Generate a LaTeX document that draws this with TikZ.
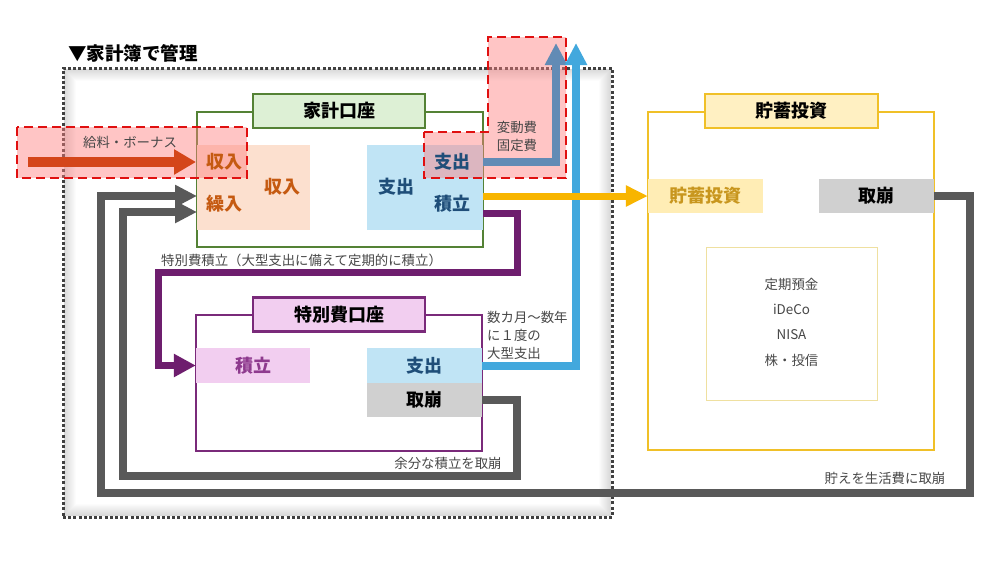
\documentclass[tikz,border=0pt]{standalone}
\usepackage{fontspec}
\setmainfont{Noto Sans CJK JP}
\usetikzlibrary{arrows.meta,calc}
\definecolor{grn}{HTML}{548235}
\definecolor{grnfill}{HTML}{DDF0D5}
\definecolor{orgfill}{HTML}{FCE0CF}
\definecolor{orgtxt}{HTML}{C55A11}
\definecolor{blufill}{HTML}{C0E4F5}
\definecolor{blutxt}{HTML}{1F4E79}
\definecolor{prp}{HTML}{7A2A7A}
\definecolor{prparrow}{HTML}{6E1E6E}
\definecolor{pnkfill}{HTML}{F2CEF0}
\definecolor{prptxt}{HTML}{8E3A8E}
\definecolor{gryline}{HTML}{595959}
\definecolor{gryfill}{HTML}{D0D0D0}
\definecolor{ylw}{HTML}{F0C028}
\definecolor{ylwfill}{HTML}{FFF0C2}
\definecolor{savfill}{HTML}{FFEDB5}
\definecolor{savtxt}{HTML}{C8961E}
\definecolor{ylwarrow}{HTML}{F8B500}
\definecolor{innerbd}{HTML}{EFE0A0}
\definecolor{lblue}{HTML}{42A8DD}
\definecolor{steel}{HTML}{628BB5}
\definecolor{incred}{HTML}{D4461A}
\definecolor{framegray}{HTML}{404040}
\definecolor{txtgray}{HTML}{474747}
\definecolor{rdash}{HTML}{E01010}
\definecolor{rfill}{HTML}{FF8080}
\begin{document}
\begin{tikzpicture}[x=1pt,y=-1pt,
  lbl/.style={font=\fontsize{13.4}{18}\selectfont, text=txtgray, inner sep=0pt},
  tabbox/.style={draw=#1, line width=2.2pt, minimum width=172pt, minimum height=34pt, inner sep=0pt, font=\bfseries\fontsize{18}{18}\selectfont},
  acct/.style={draw=#1, line width=2pt, inner sep=0pt},
  cellbox/.style={inner sep=0pt, font=\bfseries\fontsize{18}{18}\selectfont},
  redzone/.style={draw=rdash, line width=2.5pt, dash pattern=on 9pt off 5pt, fill=rfill, fill opacity=0.45},
  grflow/.style={draw=gryline, line width=8.5pt, -{Triangle[width=21pt,length=22pt]}},
]
\useasboundingbox[fill=white] (0,0) rectangle (1000,563);

% frame shadow
\foreach \i in {0,...,11}{
  \draw[black, opacity={0.15*(1-\i/12)}, line width=1.2pt] ({64.5+\i},{69.5+\i}) rectangle ({610.5-\i},{515.5-\i});
}
\node[draw=framegray, line width=3pt, dash pattern=on 3pt off 2.2pt, minimum width=549pt, minimum height=449pt, inner sep=0pt] (frame) at (337.5,292.5) {};
\node[anchor=west, inner sep=0pt, font=\bfseries\fontsize{18.5}{18.5}\selectfont] (title) at (68,53) {▼家計簿で管理};

% household account
\node[acct=grn, minimum width=286pt, minimum height=135pt] (kakei) at (340,179.5) {};
\node[cellbox, fill=orgfill, minimum width=113pt, minimum height=85pt] (inc) at (253.5,187.5) {};
\node[cellbox, fill=blufill, minimum width=116pt, minimum height=85pt] (exp) at (425,187.5) {};
\node[tabbox=grn, fill=grnfill] (kakeitab) at (339,111) {家計口座};

% special account
\node[acct=prp, minimum width=286pt, minimum height=136pt] (spbox) at (339,383) {};
\node[cellbox, fill=pnkfill, text=prptxt, minimum width=114pt, minimum height=35pt] (stk) at (253,365.5) {積立};
\node[cellbox, fill=blufill, text=blutxt, minimum width=115pt, minimum height=35pt] (sexp) at (424.5,365.5) {支出};
\node[cellbox, fill=gryfill, text=black, minimum width=115pt, minimum height=34pt] (sbrk) at (424.5,400) {取崩};
\node[tabbox=prp, fill=pnkfill] (sptab) at (339,314.5) {特別費口座};

% savings
\node[acct=ylw, minimum width=286pt, minimum height=338pt] (rbox) at (791,281) {};
\node[cellbox, fill=savfill, text=savtxt, minimum width=115pt, minimum height=34pt] (sav) at (705.5,196) {貯蓄投資};
\node[cellbox, fill=gryfill, text=black, minimum width=115pt, minimum height=34pt] (rbrk) at (876.5,196) {取崩};
\node[tabbox=ylw, fill=ylwfill, minimum width=173pt] (rtab) at (791.5,111) {貯蓄投資};
\node[draw=innerbd, line width=0.8pt, minimum width=171pt, minimum height=153pt, inner sep=0pt] (inner) at (791.5,323.5) {};
\node[lbl, align=center, font=\fontsize{13.4}{25.3}\selectfont] (list) at (791.5,322) {定期預金\\iDeCo\\NISA\\株・投信};

% red zones
\draw[redzone] (17,127) rectangle (247,178);
\draw[redzone] (424,132) -- (488,132) -- (488,37) -- (566,37) -- (566,178) -- (424,178) -- cycle;

% labels inside household account
\node[cellbox, text=orgtxt] (inc1) at (224,162) {収入};
\node[cellbox, text=orgtxt] (inc2) at (224,204) {繰入};
\node[cellbox, text=orgtxt] (incbig) at (282,187) {収入};
\node[cellbox, text=blutxt] (exp1) at (452,162) {支出};
\node[cellbox, text=blutxt] (exp2) at (452,204) {積立};
\node[cellbox, text=blutxt] (expbig) at (396,187) {支出};

% coordinates
\coordinate (incsrc) at (28,162);
\coordinate (up1) at (556,43);
\coordinate (up2) at (576,43);
\coordinate (pp1) at (517,272);
\coordinate (pp2) at (158,272);
\coordinate (gi1) at (517,476);
\coordinate (gi2) at (123,476);
\coordinate (in2) at (197,212);
\coordinate (go1) at (970,493);
\coordinate (go2) at (101,493);
\coordinate (in1) at (197,196);

% flows
\draw[incred, line width=10pt, -{Triangle[width=24pt,length=22pt]}] (incsrc) -- (kakei.west |- inc1);
\draw[steel, line width=8pt, -{Triangle[width=21pt,length=22pt]}] (exp.east |- exp1) -| (up1);
\draw[lblue, line width=8pt, -{Triangle[width=21pt,length=22pt]}] (sexp.east) -| (up2);
\draw[ylwarrow, line width=7pt, -{Triangle[width=20pt,length=22pt]}] (exp.east |- sav) -- (sav.west);
\draw[prparrow, line width=7pt, -{Triangle[width=22pt,length=22pt]}] ([yshift=17pt]exp.south east) -| (pp1) -- (pp2) |- (stk.west);
\draw[grflow] (sbrk.east) -| (gi1) -- (gi2) |- (in2);
\draw[grflow] (rbrk.east) -| (go1) -- (go2) |- (in1);

% text labels
\node[lbl] (salary) at (130,142) {給料・ボーナス};
\node[lbl, align=center] (varfix) at (517,136) {変動費\\固定費};
\node[lbl, anchor=west] (spnote) at (161,260) {特別費積立（大型支出に備えて定期的に積立）};
\node[lbl, anchor=west, align=left] (bignote) at (487,335) {数カ月〜数年\\に１度の\\大型支出};
\node[lbl] (extra) at (448,463) {余分な積立を取崩};
\node[lbl] (living) at (885,478) {貯えを生活費に取崩};
\end{tikzpicture}
\end{document}
